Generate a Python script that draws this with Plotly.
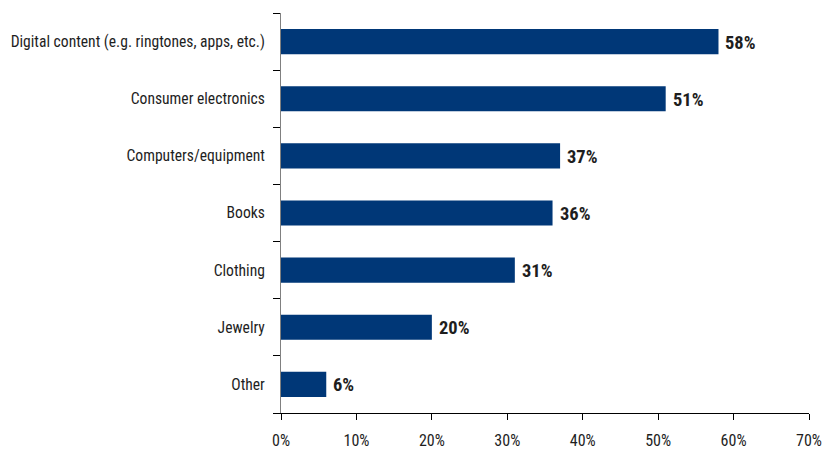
import plotly.graph_objects as go

categories = [
    "Digital content (e.g. ringtones, apps, etc.)",
    "Consumer electronics",
    "Computers/equipment",
    "Books",
    "Clothing",
    "Jewelry",
    "Other",
]
values = [58, 51, 37, 36, 31, 20, 6]
x_ticks = [0, 10, 20, 30, 40, 50, 60, 70]
x_tick_labels = [f"{t}%" for t in x_ticks]

FONT = "Roboto Condensed, Liberation Sans Narrow, Arial Narrow, sans-serif"
BAR = "#003777"
TEXT = "#1e1e1e"

fig = go.Figure(
    go.Bar(
        x=values,
        y=categories,
        orientation="h",
        marker=dict(color=BAR, line=dict(width=0)),
        width=0.44,
        cliponaxis=False,
        hoverinfo="x+y",
    )
)

# value labels to the right of each bar
for cat, v in zip(categories, values):
    fig.add_annotation(
        x=v,
        y=cat,
        text=f"{v}%",
        showarrow=False,
        xanchor="left",
        yanchor="middle",
        xshift=5,
        yshift=-1,
        font=dict(family=FONT, size=18.5, color=TEXT, weight="bold"),
    )

fig.update_layout(
    width=824,
    height=450,
    margin=dict(l=281, r=15, t=13, b=37),
    paper_bgcolor="white",
    plot_bgcolor="white",
    showlegend=False,
    font=dict(family=FONT, size=16, color=TEXT),
)

fig.update_xaxes(
    range=[0, 70],
    tickvals=x_ticks,
    ticktext=x_tick_labels,
    showgrid=False,
    zeroline=False,
    showline=True,
    linecolor="black",
    linewidth=1,
    ticks="outside",
    ticklen=6,
    tickcolor="black",
    tickfont=dict(family=FONT, size=16, color=TEXT),
    ticklabelstandoff=7,
    automargin=False,
)

fig.update_yaxes(
    categoryorder="array",
    categoryarray=categories[::-1],
    showgrid=False,
    zeroline=False,
    showline=True,
    linecolor="#808080",
    linewidth=1,
    ticks="outside",
    tickson="boundaries",
    ticklen=7,
    tickcolor="black",
    tickfont=dict(family=FONT, size=15.6, color=TEXT),
    ticklabelstandoff=12,
    automargin=False,
)

fig.write_html("out.html")
